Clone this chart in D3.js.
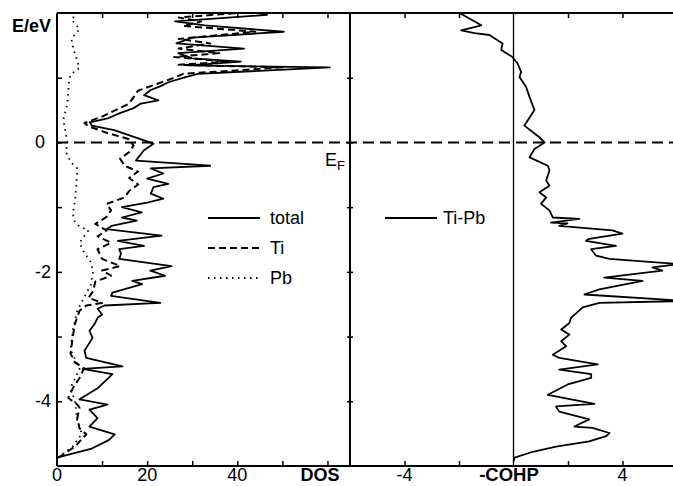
<!DOCTYPE html>
<html lang="en">
<head>
<meta charset="UTF-8">
<title>DOS and COHP</title>
<script src="https://d3js.org/d3.v7.min.js"></script>
<style>
  body { margin: 0; background: #fff; }
  text { font-family: "Liberation Sans", Arial, sans-serif; fill: #000; }
</style>
</head>
<body>
<script>
// data: [energy in eV, value]
var totalDos = [[-4.87,0],[-4.73,7.7],[-4.6,11.5],[-4.51,12.8],[-4.39,7.2],[-4.26,9.0],[-4.13,7.2],[-4.05,11.2],
  [-3.97,5.0],[-3.8,9.0],[-3.58,12.3],[-3.5,5.7],[-3.46,14.5],[-3.33,6.5],[-3.22,6.1],[-3.02,7.9],[-2.91,7.2],
  [-2.81,8.3],[-2.71,9.0],[-2.66,10],[-2.57,9],[-2.52,10.5],[-2.48,22.9],[-2.37,12],[-2.32,12.3],[-2.19,18.9],
  [-2.14,16.7],[-2.06,24],[-1.98,20.7],[-1.91,25.4],[-1.8,13.8],[-1.72,14.2],[-1.65,13.8],[-1.6,19.3],
  [-1.52,13.5],[-1.44,23.2],[-1.34,11],[-1.29,12.1],[-1.21,17.7],[-1.16,14.4],[-1.08,18.8],[-1.0,14.4],
  [-0.93,20],[-0.87,23.6],[-0.79,20.8],[-0.69,21.4],[-0.64,24.7],[-0.56,20],[-0.48,23.6],[-0.40,20.8],
  [-0.36,34],[-0.28,17.5],[-0.12,19.3],[-0.02,21.4],[0.1,16.4],[0.19,12.7],[0.26,7.7],[0.31,7.3],[0.37,11.2],
  [0.45,13.8],[0.53,17],[0.6,18.6],[0.65,22.5],[0.73,19.3],[0.81,20.8],[0.87,23],[0.93,24.7],[1.01,28.5],
  [1.06,31.3],[1.16,60.5],[1.19,29.1],[1.25,40.8],[1.30,30],[1.38,26.9],[1.45,41.5],[1.53,26.5],[1.62,30],
  [1.71,50.3],[1.81,32.8],[1.87,26.2],[1.97,46.6],[2.0,44]];

var tiDos = [[-4.87,0.3],[-4.7,4],[-4.51,6.5],[-4.42,5],[-4.26,4.5],[-4.1,5],[-4.05,4.5],[-3.95,2.5],[-3.8,3.5],
  [-3.64,5],[-3.49,6],[-3.4,4],[-3.26,3],[-3.0,3.5],[-2.8,4],[-2.6,5],[-2.52,6.5],[-2.48,10],[-2.4,7],[-2.3,8],
  [-2.15,8.5],[-2.06,12],[-1.98,10],[-1.91,14],[-1.8,10],[-1.65,9],[-1.55,12],[-1.45,9],[-1.36,11],[-1.26,8.5],
  [-1.15,11],[-1.05,12],[-0.95,11],[-0.85,15],[-0.75,16],[-0.65,18],[-0.55,16],[-0.45,18],[-0.36,15],[-0.25,14],
  [-0.15,16],[-0.05,17],[0.05,16],[0.15,11],[0.25,7],[0.3,6.1],[0.4,10],[0.5,13],[0.6,16],[0.7,17],[0.8,18],
  [0.9,22],[1.0,26],[1.06,28],[1.16,50],[1.2,27],[1.25,38],[1.32,26],[1.38,36],[1.45,27],[1.53,34],[1.6,27],
  [1.71,44],[1.8,28],[1.87,32],[1.93,27],[2.0,40]];

var pbDos = [[-4.87,0.2],[-4.7,3.5],[-4.5,5.5],[-4.3,4.5],[-4.0,4],[-3.8,3],[-3.5,5],[-3.2,3],[-2.9,3.5],
  [-2.6,4.5],[-2.4,6],[-2.2,7.5],[-2.0,8],[-1.85,7.5],[-1.7,6],[-1.55,5],[-1.45,6],[-1.36,7],[-1.3,5],
  [-1.24,4],[-1.1,3.5],[-0.9,4],[-0.65,4.3],[-0.4,4.5],[-0.3,3],[-0.15,2],[0.0,2.3],[0.2,1.8],[0.35,1.4],
  [0.6,2.3],[0.9,2.6],[1.05,3],[1.15,5],[1.3,4.3],[1.45,3.6],[1.6,3.2],[1.75,5],[1.9,3.2],[2.0,4.5]];

var cohpTiPb = [[-4.93,0],[-4.87,0.04],[-4.78,0.71],[-4.70,1.56],[-4.62,2.78],[-4.54,3.4],[-4.49,3.52],
  [-4.41,2.9],[-4.39,2.23],[-4.28,2.78],[-4.16,1.68],[-4.08,1.56],[-4.04,2.97],[-3.9,1.26],[-3.74,1.99],
  [-3.64,2.85],[-3.58,2.85],[-3.51,1.68],[-3.43,3.09],[-3.33,1.68],[-3.28,1.44],[-3.15,1.93],[-3.07,1.75],
  [-2.97,2.05],[-2.89,1.75],[-2.79,2.05],[-2.71,2.11],[-2.55,2.54],[-2.48,3.15],[-2.45,6.3],[-2.35,2.6],
  [-2.27,3.15],[-2.14,4.74],[-2.09,3.33],[-1.98,5.46],[-1.93,5.1],[-1.88,6.1],[-1.8,3.52],[-1.75,3.03],
  [-1.65,2.85],[-1.6,3.76],[-1.52,2.66],[-1.49,2.78],[-1.41,4.0],[-1.36,3.63],[-1.29,1.68],[-1.25,1.98],
  [-1.24,1.38],[-1.18,2.42],[-1.16,1.44],[-1.05,1.32],[-0.95,1.01],[-0.85,1.2],[-0.77,0.95],[-0.67,1.32],
  [-0.59,1.2],[-0.43,1.32],[-0.36,1.26],[-0.23,0.59],[-0.10,0.77],[0.0,1.14],[0.08,0.95],[0.26,0.40],
  [0.34,0.52],[0.5,0.77],[0.70,0.59],[0.86,0.46],[1.01,0.22],[1.09,0.28],[1.22,0.15],[1.32,-0.04],
  [1.43,-0.45],[1.53,-0.40],[1.63,-0.77],[1.66,-0.88],[1.69,-1.43],[1.73,-1.92],[1.81,-1.18],[2.0,-1.98]];

var eTicks = [1, 0, -1, -2, -3, -4];
var eLabels = [0, -2, -4];
var dosTicks = [10, 20, 30, 40, 50, 60];
var dosLabels = [0, 20, 40];
var cohpTicks = [-4, -2, 2, 4];
var cohpLabels = [-4, 4];
var dosLegend = ['total', 'Ti', 'Pb'];

var width = 673, height = 486;
var yTop = 13, yBottom = 466;

var y = d3.scaleLinear().domain([-5, 2]).range([yBottom, yTop]);
var xDos = d3.scaleLinear().domain([0, 65]).range([57, 350]);
var xCohp = d3.scaleLinear().domain([-6, 6]).range([350, 677]);

var svg = d3.select('body').append('svg')
  .attr('width', width).attr('height', height);

var styles = {
  total: { width: 1.8, dash: null },
  Ti: { width: 2, dash: '7,4' },
  Pb: { width: 1.8, dash: '1.5,4.5' }
};

// curves
var dosLine = d3.line().x(function(d) { return xDos(d[1]); }).y(function(d) { return y(d[0]); });
var cohpLine = d3.line().x(function(d) { return xCohp(d[1]); }).y(function(d) { return y(d[0]); });

[[pbDos, 'Pb'], [tiDos, 'Ti'], [totalDos, 'total']].forEach(function(s) {
  svg.append('path').datum(s[0])
    .attr('d', dosLine)
    .attr('fill', 'none').attr('stroke', '#000')
    .attr('stroke-width', styles[s[1]].width)
    .attr('stroke-dasharray', styles[s[1]].dash)
    .attr('stroke-linejoin', 'round');
});

svg.append('path').datum(cohpTiPb)
  .attr('d', cohpLine)
  .attr('fill', 'none').attr('stroke', '#000')
  .attr('stroke-width', 1.8).attr('stroke-linejoin', 'round');

// COHP zero line
svg.append('line')
  .attr('x1', xCohp(0)).attr('x2', xCohp(0))
  .attr('y1', yTop).attr('y2', yBottom)
  .attr('stroke', '#000').attr('stroke-width', 1.3);

// Fermi level
svg.append('line')
  .attr('x1', xDos(0)).attr('x2', width)
  .attr('y1', y(0)).attr('y2', y(0))
  .attr('stroke', '#000').attr('stroke-width', 2)
  .attr('stroke-dasharray', '11,6');

// frame
svg.append('line').attr('x1', 57).attr('x2', width).attr('y1', yTop).attr('y2', yTop)
  .attr('stroke', '#000').attr('stroke-width', 2);
svg.append('line').attr('x1', 57).attr('x2', width).attr('y1', yBottom).attr('y2', yBottom)
  .attr('stroke', '#000').attr('stroke-width', 2);
svg.append('line').attr('x1', 57).attr('x2', 57).attr('y1', yTop).attr('y2', yBottom)
  .attr('stroke', '#000').attr('stroke-width', 2);
svg.append('line').attr('x1', 350).attr('x2', 350).attr('y1', yTop).attr('y2', yBottom)
  .attr('stroke', '#000').attr('stroke-width', 2);

// tick marks via axes, labels drawn separately
function ticksOnly(axis, tx, ty) {
  var g = svg.append('g').attr('transform', 'translate(' + tx + ',' + ty + ')').call(axis);
  g.select('.domain').remove();
  g.selectAll('.tick line').attr('stroke-width', 1.5);
  g.selectAll('.tick text').remove();
}
ticksOnly(d3.axisRight(y).tickValues(eTicks).tickSize(5), 57, 0);
ticksOnly(d3.axisRight(y).tickValues(eTicks).tickSize(6), 347, 0);
ticksOnly(d3.axisBottom(xDos).tickValues(dosTicks).tickSize(5), 0, yTop);
ticksOnly(d3.axisTop(xDos).tickValues(dosTicks).tickSize(5), 0, yBottom);
ticksOnly(d3.axisBottom(xCohp).tickValues(cohpTicks).tickSize(5), 0, yTop);
ticksOnly(d3.axisTop(xCohp).tickValues(cohpTicks).tickSize(5), 0, yBottom);

// labels
svg.selectAll('.elab').data(eLabels).enter().append('text')
  .attr('x', 35).attr('y', function(d) { return y(d) + 6; })
  .attr('font-size', 18).text(function(d) { return d; });
svg.append('text').attr('x', 12).attr('y', 32)
  .attr('font-size', 18).attr('font-weight', 'bold').text('E/eV');

svg.selectAll('.dlab').data(dosLabels).enter().append('text')
  .attr('x', function(d) { return xDos(d); }).attr('y', 481)
  .attr('text-anchor', 'middle').attr('font-size', 18).text(function(d) { return d; });
svg.append('text').attr('x', 320).attr('y', 481).attr('text-anchor', 'middle')
  .attr('font-size', 18).attr('font-weight', 'bold').text('DOS');

svg.selectAll('.clab').data(cohpLabels).enter().append('text')
  .attr('x', function(d) { return xCohp(d); }).attr('y', 481)
  .attr('text-anchor', 'middle').attr('font-size', 18).text(function(d) { return d; });
svg.append('text').attr('x', 509).attr('y', 481).attr('text-anchor', 'middle')
  .attr('font-size', 18.5).attr('font-weight', 'bold').text('-COHP');

var ef = svg.append('text').attr('x', 325).attr('y', 166).attr('font-size', 18);
ef.append('tspan').text('E');
ef.append('tspan').attr('font-size', 13).attr('dy', 4).text('F');

// legends
dosLegend.forEach(function(name, i) {
  var ly = 218 + i * 30;
  svg.append('line').attr('x1', 208).attr('x2', 260).attr('y1', ly).attr('y2', ly)
    .attr('stroke', '#000').attr('stroke-width', styles[name].width)
    .attr('stroke-dasharray', styles[name].dash);
  svg.append('text').attr('x', 270).attr('y', ly + 6).attr('font-size', 18).text(name);
});
svg.append('line').attr('x1', 385).attr('x2', 437).attr('y1', 218).attr('y2', 218)
  .attr('stroke', '#000').attr('stroke-width', 1.8);
svg.append('text').attr('x', 443).attr('y', 224).attr('font-size', 18).text('Ti-Pb');
</script>
</body>
</html>
